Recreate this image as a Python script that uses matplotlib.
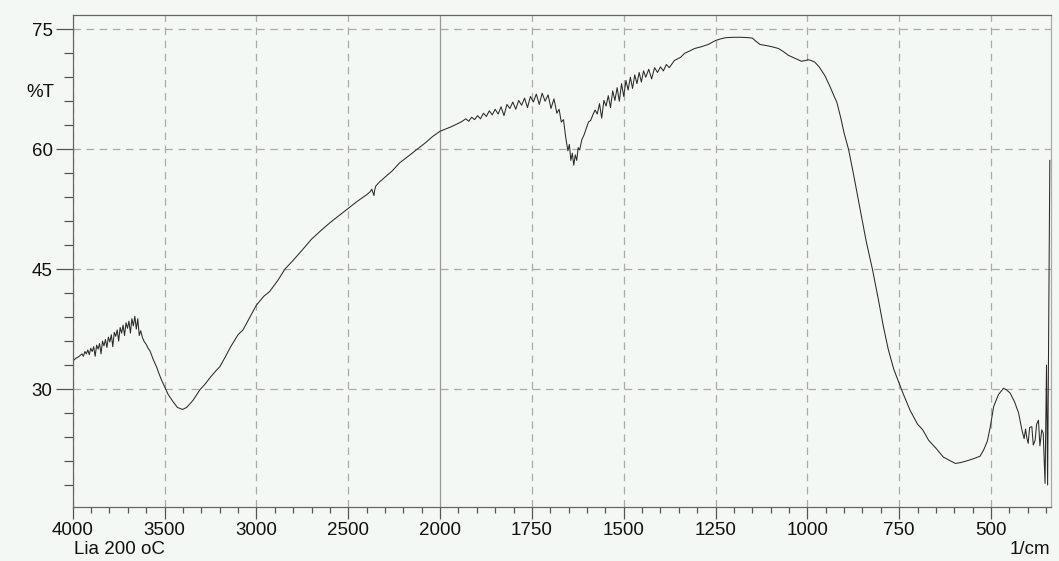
import numpy as np
import matplotlib
matplotlib.use("Agg")
import matplotlib.pyplot as plt
from matplotlib.ticker import FixedLocator

plt.rcParams['font.family'] = ['Liberation Sans', 'DejaVu Sans']

# spectrum: wavenumber (1/cm) and transmittance (%T)
wavenumber = [
    4000, 3990, 3980, 3970, 3960, 3950, 3942, 3934, 3926, 3918, 3910, 3902,
    3894, 3886, 3878, 3870, 3862, 3854, 3846, 3838, 3830, 3822, 3814, 3806,
    3798, 3790, 3782, 3774, 3766, 3758, 3750, 3742, 3734, 3726, 3718, 3710,
    3702, 3694, 3686, 3678, 3670, 3662, 3654, 3646, 3638, 3630, 3620, 3610,
    3600, 3590, 3580, 3560, 3544, 3530, 3516, 3500, 3480, 3453, 3430, 3402,
    3380, 3360, 3345, 3325, 3308, 3280, 3250, 3220, 3199, 3170, 3140, 3100,
    3073, 3040, 3000, 2960, 2928, 2883, 2845, 2800, 2750, 2700, 2650, 2600,
    2550, 2500, 2450, 2400, 2380, 2372, 2366, 2360, 2356, 2350, 2330, 2300,
    2260, 2220, 2180, 2125, 2080, 2040, 2000, 1970, 1943,
    1930, 1922, 1914, 1906, 1898, 1890, 1882, 1874, 1866, 1858, 1850, 1842,
    1834, 1826, 1818, 1810, 1802, 1794, 1786, 1778, 1770, 1762, 1754, 1746,
    1738, 1730, 1722, 1714, 1706, 1698, 1690, 1682, 1676, 1670, 1664, 1658,
    1652, 1648, 1644, 1640, 1636, 1632, 1628, 1624, 1620, 1614, 1608, 1602,
    1596, 1590, 1584, 1578, 1572, 1566, 1560, 1554, 1548, 1542, 1536, 1530,
    1524, 1518, 1512, 1506, 1500, 1494, 1488, 1482, 1476, 1470, 1464, 1458,
    1452, 1446, 1440, 1432, 1424, 1416, 1408, 1400, 1392, 1384, 1376, 1362,
    1345, 1334, 1320, 1307, 1290, 1270, 1250, 1236, 1222, 1200, 1180, 1160,
    1150, 1140, 1129, 1110, 1095, 1079, 1065, 1052, 1035, 1016, 1005, 998,
    990, 980, 968, 953, 940, 926, 920, 909, 900, 888, 875, 856,
    840, 823, 808, 793, 780, 765, 750, 740, 720, 700, 686, 670,
    650, 630, 610, 597, 583, 560, 547, 530, 520, 510, 502, 493,
    480, 466, 458, 448, 436, 425, 416, 410, 406, 403, 399, 395,
    389, 385, 380, 376, 371, 367, 362, 358, 353, 349, 346, 340,
]
transmittance = [
    33.5, 33.7, 33.9, 34.0, 34.2, 34.4, 34.1, 34.7, 34.4, 34.9, 34.3, 35.1,
    34.7, 35.3, 34.1, 35.5, 35.0, 35.7, 34.4, 36.0, 35.4, 36.2, 35.2, 36.5,
    35.9, 36.8, 35.3, 37.1, 36.6, 37.4, 36.0, 37.7, 37.0, 38.0, 36.7, 38.3,
    37.6, 38.5, 37.0, 38.8, 37.9, 39.1, 37.5, 38.8, 36.7, 37.3, 36.4, 35.9,
    35.6, 35.1, 34.8, 33.6, 32.8, 31.9, 31.1, 30.3, 29.3, 28.4, 27.7, 27.45,
    27.7, 28.2, 28.6, 29.3, 29.9, 30.6, 31.5, 32.3, 32.8, 34.0, 35.3, 36.8,
    37.4, 38.8, 40.5, 41.6, 42.2, 43.6, 45.0, 46.1, 47.4, 48.75, 49.8, 50.8,
    51.7, 52.6, 53.5, 54.3, 54.7, 55.0, 54.6, 54.2, 54.9, 55.4, 55.9, 56.5,
    57.3, 58.3, 59.0, 60.0, 60.8, 61.6, 62.25, 62.8, 63.4,
    63.8, 63.5, 64.0, 63.7, 64.2, 63.8, 64.5, 64.1, 64.8, 64.3, 65.0, 64.4,
    65.3, 64.2, 65.6, 65.1, 65.9, 65.0, 66.1, 65.5, 66.4, 65.2, 66.6, 65.9,
    66.9, 65.6, 67.0, 66.0, 66.8, 65.1, 66.3, 64.5, 65.0, 63.4, 63.7, 61.5,
    59.8, 60.6, 58.6, 59.5, 58.0, 59.3, 58.6, 60.2, 59.9, 61.2, 61.8, 62.6,
    63.4, 63.6, 64.3, 64.9, 64.4, 65.7, 63.9, 66.1, 65.4, 66.7, 65.2, 67.3,
    66.1, 67.7, 66.0, 68.2, 66.6, 68.6, 67.4, 69.0, 67.6, 69.3, 68.2, 69.6,
    68.4, 69.8, 69.0, 70.0, 68.8, 70.2, 69.6, 70.3, 69.8, 70.6, 70.2, 71.1,
    71.5, 72.0, 72.3, 72.6, 72.8, 73.1, 73.6, 73.8, 73.95, 74.0, 74.0, 73.95,
    73.9, 73.5, 73.1, 72.95, 72.8, 72.6, 72.2, 71.75, 71.4, 71.0, 71.1, 71.2,
    71.1, 70.9, 70.3, 69.25, 68.0, 66.5, 65.9, 63.9, 62.0, 60.0, 57.0, 52.4,
    48.5, 45.0, 41.5, 37.8, 35.0, 32.5, 30.7, 29.5, 27.3, 25.6, 24.9, 23.6,
    22.6, 21.5, 21.0, 20.7, 20.8, 21.1, 21.3, 21.6, 22.4, 23.5, 25.3, 27.8,
    29.3, 30.1, 29.9, 29.5, 28.4, 27.0, 24.9, 23.8, 25.0, 24.0, 23.2, 25.2,
    25.3, 23.0, 23.6, 25.6, 26.1, 22.9, 24.9, 24.5, 18.2, 33.0, 18.0, 58.6,
]

x_major = [4000, 3500, 3000, 2500, 2000, 1750, 1500, 1250, 1000, 750, 500]
y_major = [30, 45, 60, 75]


# the instrument halves the scale above 2000 1/cm
def fwd(w):
    w = np.asarray(w, dtype=float)
    return np.where(w > 2000, 2000 + (w - 2000) / 2, w)


def inv(u):
    u = np.asarray(u, dtype=float)
    return np.where(u > 2000, 2000 + (u - 2000) * 2, u)


bg = '#f4f8f4'
fig = plt.figure(figsize=(10.59, 5.61), dpi=100, facecolor=bg)
ax = fig.add_axes([0.0687, 0.0957, 0.9235, 0.8776], facecolor=bg)
ax.set_xscale('function', functions=(fwd, inv))

ax.plot(wavenumber, transmittance, color='#2a2a2a', lw=0.75)

ax.set_xlim(4000, 337.5)
ax.set_ylim(15.21, 76.79)

ax.xaxis.set_major_locator(FixedLocator(x_major))
ax.xaxis.set_minor_locator(FixedLocator(
    list(range(4000, 2000, -100)) + list(range(2000, 349, -50))))
ax.set_xticklabels([str(v) for v in x_major])
ax.yaxis.set_major_locator(FixedLocator(y_major))
ax.yaxis.set_minor_locator(FixedLocator(list(range(18, 76, 3))))

ax.tick_params(axis='both', which='both', direction='out', colors='#555555',
               labelcolor='#111111', labelsize=13.5)
ax.tick_params(axis='y', which='major', length=12.5, width=0.9, pad=2)
ax.tick_params(axis='y', which='minor', length=6.5, width=0.9)
ax.tick_params(axis='x', which='major', length=8.5, width=0.9, pad=2)
ax.tick_params(axis='x', which='minor', length=4.3, width=0.9)

for v in x_major:
    if v == 2000:
        ax.axvline(v, color='#999999', lw=0.9, zorder=0)
    else:
        ax.axvline(v, color='#aaaaaa', lw=0.9, ls=(0, (6, 4.5)), zorder=0)
for v in y_major:
    ax.axhline(v, color='#aaaaaa', lw=0.9, ls=(0, (6, 4.5)), zorder=0)

for s in ['left', 'bottom', 'top']:
    ax.spines[s].set_color('#666666')
    ax.spines[s].set_linewidth(0.9)
ax.spines['right'].set_color('#aaaaaa')
ax.spines['right'].set_linewidth(0.9)

fig.text(0.038, 1 - 92 / 561, '%T', fontsize=13.5, ha='center', va='center',
         color='#111111')
fig.text(74 / 1059, 1 - 549 / 561, 'Lia 200 oC', fontsize=13.5, ha='left',
         va='center', color='#111111')
fig.text(1050 / 1059, 1 - 549 / 561, '1/cm', fontsize=13.5, ha='right',
         va='center', color='#111111')

fig.savefig('out.png', dpi=100, facecolor=bg)
